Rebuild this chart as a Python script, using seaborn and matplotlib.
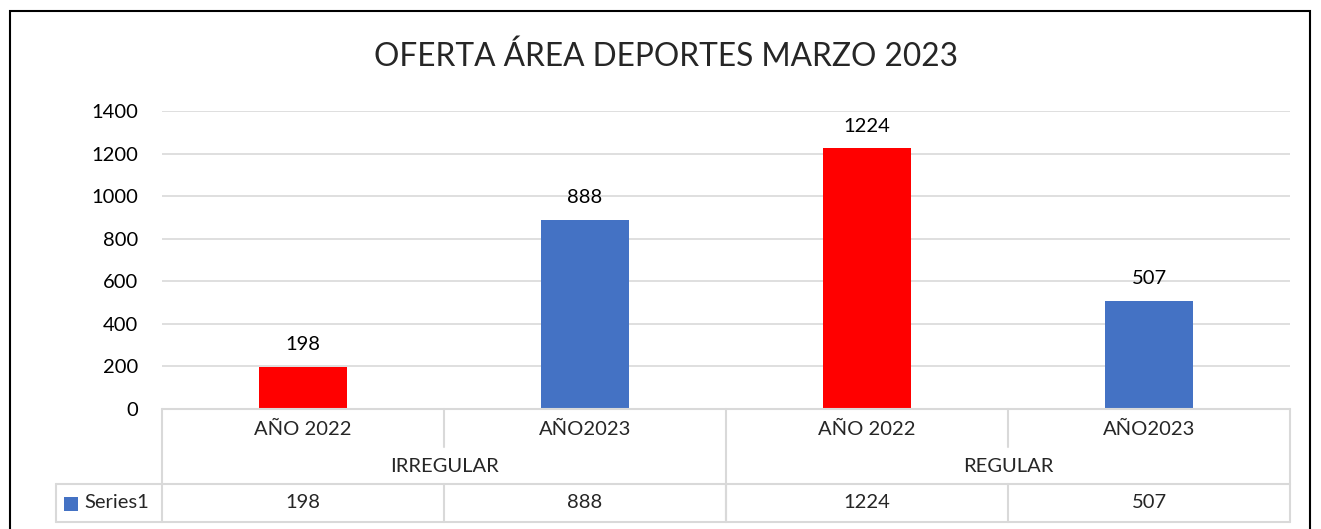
import matplotlib
matplotlib.use("Agg")
import matplotlib.pyplot as plt
import matplotlib.transforms as mtransforms
from matplotlib.lines import Line2D
from matplotlib.patches import Rectangle
import seaborn as sns
import pandas as pd

# Data
grupos = ["IRREGULAR", "IRREGULAR", "REGULAR", "REGULAR"]
anios = ["AÑO 2022", "AÑO2023", "AÑO 2022", "AÑO2023"]
valores = [198, 888, 1224, 507]
colores = ["#FF0000", "#4472C4", "#FF0000", "#4472C4"]
serie = "Series1"
titulo = "OFERTA ÁREA DEPORTES MARZO 2023"
yticks = [0, 200, 400, 600, 800, 1000, 1200, 1400]

df = pd.DataFrame({"grupo": grupos, "anio": anios, "valor": valores})
df["clave"] = df["grupo"] + " " + df["anio"] + " " + df.index.astype(str)

sns.set_theme(style="white")
plt.rcParams["font.family"] = ["Lato", "DejaVu Sans"]

W, H = 1321, 529
FS = 14.5
fig = plt.figure(figsize=(W / 100, H / 100), dpi=100)
ax = fig.add_axes([162 / W, 1 - 409 / H, 1128 / W, 298 / H])

sns.barplot(data=df, x="clave", y="valor", hue="clave",
            palette=dict(zip(df["clave"], colores)), legend=False,
            width=0.31, saturation=1, linewidth=0, ax=ax)

for c in ax.containers:
    ax.bar_label(c, labels=[f"{v:.0f}" for v in c.datavalues], padding=10,
                 fontsize=FS, color="#000000")

ax.set_ylim(0, 1400)
ax.set_xlim(-0.5, len(valores) - 0.5)
ax.set_yticks(yticks)
ax.tick_params(axis="y", length=0, pad=17, labelsize=FS, labelcolor="#000000")
ax.set_xticks([])
ax.set_xlabel("")
ax.set_ylabel("")
ax.yaxis.grid(True, color="#d9d9d9", lw=1.2)
ax.set_axisbelow(True)
for s in ax.spines.values():
    s.set_visible(False)

# Data table below the axis
grid_c = "#d9d9d9"
fy = lambda y: 1 - y / H
tr = mtransforms.blended_transform_factory(ax.transData, fig.transFigure)
trf = fig.transFigure
n = len(valores)
x0, x1 = -0.5, n - 0.5
y_top, y_mid, y_ser, y_bot = 409, 447, 484, 522


def hline(xa, xb, y, transform):
    fig.add_artist(Line2D([xa, xb], [fy(y), fy(y)], transform=transform,
                          color=grid_c, lw=1.5))


def vline(x, ya, yb, transform):
    fig.add_artist(Line2D([x, x], [fy(ya), fy(yb)], transform=transform,
                          color=grid_c, lw=1.5))


hline(x0, x1, y_top, tr)
# rows that extend into the legend cell
leg_left = 56 / W
for y in (y_ser, y_bot):
    fig.add_artist(Line2D([leg_left, ax.get_position().x1], [fy(y), fy(y)],
                          transform=trf, color=grid_c, lw=1.5))
vline(leg_left, y_ser, y_bot, trf)

# group boundaries
bounds = [x0] + [i + 0.5 for i in range(n - 1) if grupos[i] != grupos[i + 1]] + [x1]
for b in bounds:
    vline(b, y_top, y_bot, tr)
for i in range(n - 1):
    b = i + 0.5
    vline(b, y_ser, y_bot, tr)
    if grupos[i] == grupos[i + 1]:
        vline(b, y_top, y_mid, tr)

for i, (a, v) in enumerate(zip(anios, valores)):
    fig.text(i, fy(429), a, transform=tr, ha="center", va="center", fontsize=FS)
    fig.text(i, fy(503), str(v), transform=tr, ha="center", va="center", fontsize=FS)

for g in dict.fromkeys(grupos):
    idx = [i for i, gg in enumerate(grupos) if gg == g]
    fig.text(sum(idx) / len(idx), fy(466), g, transform=tr, ha="center",
             va="center", fontsize=FS)

# legend key in the series row
fig.add_artist(Rectangle((64 / W, fy(511)), 14 / W, 14 / H, transform=trf,
                         facecolor=colores[1], edgecolor="none"))
fig.text(84 / W, fy(503), serie, ha="left", va="center", fontsize=FS)

# title and chart frame
fig.text(666 / W, fy(57), titulo, ha="center", va="center", fontsize=22.8)
fig.add_artist(Rectangle((10 / W, fy(535)), 1300 / W, 524 / H, transform=trf,
                         facecolor="none", edgecolor="#000000", lw=1.5))

fig.savefig("out.png", dpi=100, facecolor="white")
